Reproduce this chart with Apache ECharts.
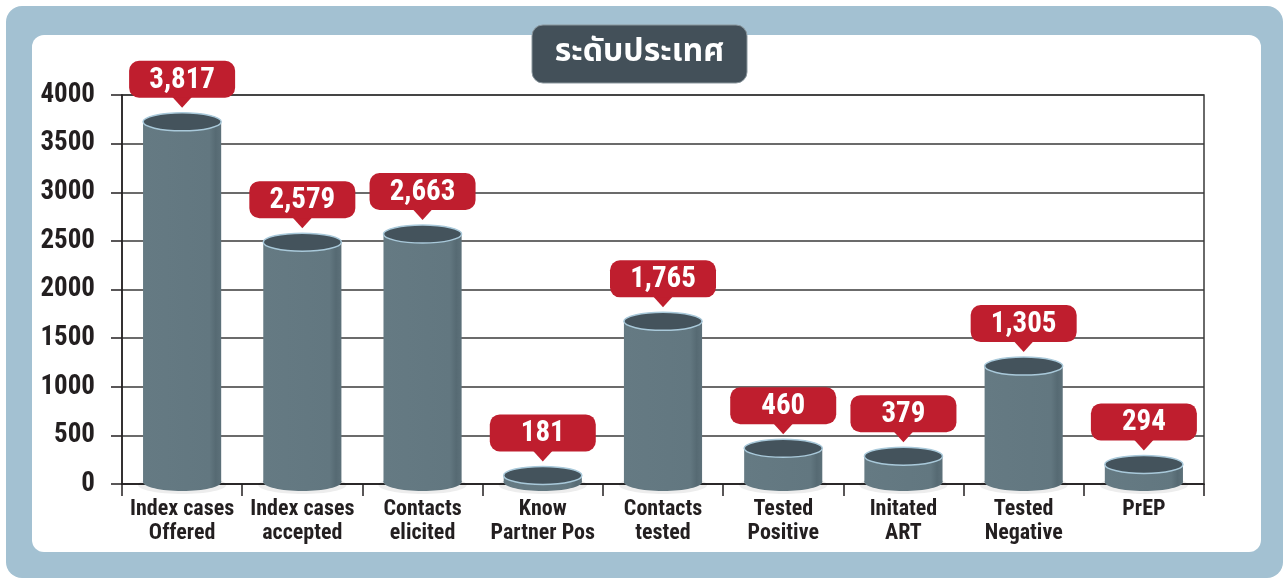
<!DOCTYPE html>
<html>
<head>
<meta charset="utf-8">
<script src="https://cdn.jsdelivr.net/npm/echarts@6/dist/echarts.min.js"></script>
<style>
html, body { margin: 0; padding: 0; background: #fff; }
#chart { width: 1286px; height: 579px; }
</style>
</head>
<body>
<div id="chart"></div>
<script>
const titleText = 'ระดับประเทศ';
const categories = ['Index cases\nOffered', 'Index cases\naccepted', 'Contacts\nelicited', 'Know\nPartner Pos',
    'Contacts\ntested', 'Tested\nPositive', 'Initated\nART', 'Tested\nNegative', 'PrEP'];
const values = [3817, 2579, 2663, 181, 1765, 460, 379, 1305, 294];
const yTicks = [0, 500, 1000, 1500, 2000, 2500, 3000, 3500, 4000];

const narrow = '"Liberation Sans Narrow", "Arial Narrow", "Roboto Condensed", sans-serif';
const ink = '#231f20';
const red = '#bf1e2e';

const chart = echarts.init(document.getElementById('chart'), null, { renderer: 'canvas' });

function renderCylinder(params, api) {
    const idx = api.value(0);
    const v = api.value(1);
    const top = api.coord([idx, v]);
    const base = api.coord([idx, 0]);
    const bw = api.size([1, 0])[0] * 0.65;
    const rx = bw / 2, ry = 9;
    const cx = top[0];
    const topC = top[1] + ry;
    const botC = base[1] - 2;
    const bodyFill = new echarts.graphic.LinearGradient(0, 0, 1, 0, [
        { offset: 0, color: '#657a83' },
        { offset: 0.85, color: '#627780' },
        { offset: 0.93, color: '#566a73' },
        { offset: 1, color: '#5d717a' }
    ]);
    const tipY = top[1] - 5;
    const boxH = 37, boxW = 106;
    const boxY = tipY - 10 - boxH;
    const txt = v.toLocaleString('en-US');
    return {
        type: 'group',
        children: [
            { type: 'ellipse', shape: { cx: cx, cy: botC + 3, rx: rx + 5, ry: ry }, style: { fill: 'rgba(0,0,0,0.07)' } },
            { type: 'ellipse', shape: { cx: cx, cy: botC, rx: rx, ry: ry }, style: { fill: bodyFill } },
            { type: 'rect', shape: { x: cx - rx, y: topC, width: bw, height: Math.max(botC - topC, 0) }, style: { fill: bodyFill } },
            { type: 'ellipse', shape: { cx: cx, cy: topC, rx: rx, ry: ry }, style: { fill: '#44535c', stroke: '#a9c9da', lineWidth: 1.5 } },
            { type: 'polygon', shape: { points: [[cx - 10, boxY + boxH - 1], [cx + 10, boxY + boxH - 1], [cx, tipY]] }, style: { fill: red } },
            { type: 'rect', shape: { x: cx - boxW / 2, y: boxY, width: boxW, height: boxH, r: 10 }, style: { fill: red } },
            { type: 'text', style: { text: txt, x: cx, y: boxY + boxH / 2 + 1, align: 'center', verticalAlign: 'middle',
                fill: '#fff', font: 'bold 29px ' + narrow } }
        ]
    };
}

chart.setOption({
    animation: false,
    graphic: [
        { type: 'rect', z: -20, shape: { x: 6, y: 6, width: 1277, height: 572, r: 16 }, style: { fill: '#a3c1d2' } },
        { type: 'rect', z: -19, shape: { x: 32, y: 35, width: 1229, height: 517, r: 12 }, style: { fill: '#ffffff' } },
        { type: 'rect', z: 50, shape: { x: 532, y: 25, width: 215, height: 58, r: 11 }, style: { fill: '#435059', stroke: '#8a969d', lineWidth: 1 } },
        { type: 'text', z: 51, style: { text: titleText, x: 639.5, y: 55, align: 'center', verticalAlign: 'middle',
            fill: '#fff', font: 'bold 32px "Noto Sans Thai", "Noto Sans", sans-serif' } }
    ],
    grid: { left: 122, right: 82, top: 95, bottom: 95, show: true, borderColor: '#3a3a3a', borderWidth: 1.5, backgroundColor: 'transparent' },
    xAxis: {
        type: 'category',
        data: categories,
        boundaryGap: true,
        axisLine: { lineStyle: { color: ink, width: 1.5 } },
        axisTick: { show: true, length: 12, lineStyle: { color: ink, width: 1.5 } },
        axisLabel: { color: ink, fontFamily: narrow, fontWeight: 'bold', fontSize: 22, lineHeight: 24, margin: 13, interval: 0 }
    },
    yAxis: {
        type: 'value',
        min: yTicks[0],
        max: yTicks[yTicks.length - 1],
        interval: 500,
        axisLine: { show: true, lineStyle: { color: ink, width: 1.5 } },
        axisTick: { show: true, length: 11, lineStyle: { color: ink, width: 1.5 } },
        splitLine: { lineStyle: { color: '#3a3a3a', width: 1.5 } },
        axisLabel: { color: ink, fontFamily: narrow, fontWeight: 'bold', fontSize: 27, margin: 27, formatter: v => String(v) }
    },
    series: [{
        type: 'custom',
        renderItem: renderCylinder,
        data: values.map((v, i) => [i, v]),
        clip: false,
        z: 10
    }]
});
</script>
</body>
</html>
